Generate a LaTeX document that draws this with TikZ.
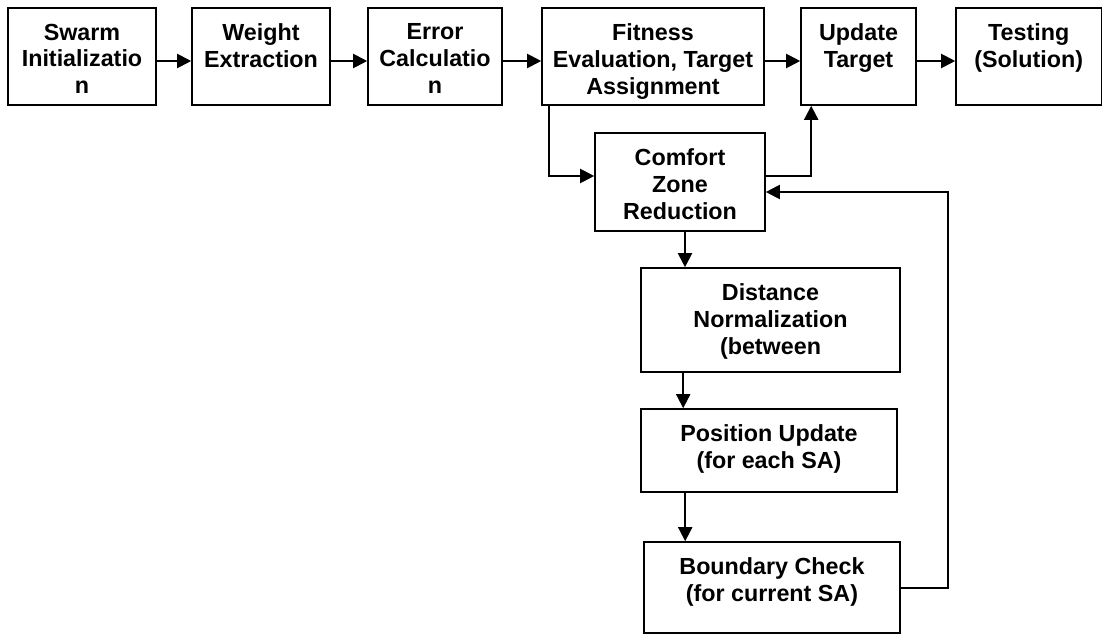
\documentclass[tikz,border=0pt]{standalone}
\usepackage{fontspec}
\setmainfont{Liberation Sans}
\usetikzlibrary{arrows.meta}

\tikzset{
	box/.style={draw, line width=1.6pt, inner sep=0pt, minimum height=97pt},
	lbl/.style={anchor=north, inner sep=0pt, yshift=-16.5pt, align=center,
		font=\bfseries\fontsize{23.3}{26.7}\selectfont},
	flow/.style={line width=2pt, -{Triangle[length=14pt,width=14pt]}},
}

\begin{document}
\begin{tikzpicture}[x=1pt,y=-1pt]
		\useasboundingbox (0,0) rectangle (1103,634);
		
		% top row
		\node[box, minimum width=148pt, label={[lbl]north:{Swarm\\Initializatio\\n}}] (swarm) at (82,56.5) {};
		\node[box, minimum width=138pt, label={[lbl]north:{Weight\\Extraction}}] (weight) at (261,56.5) {};
		\node[box, minimum width=134pt, label={[lbl]north:{Error\\Calculatio\\n}}] (error) at (435,56.5) {};
		\node[box, minimum width=222pt, label={[lbl]north:{Fitness\\Evaluation, Target\\Assignment}}] (fitness) at (653,56.5) {};
		\node[box, minimum width=115pt, label={[lbl]north:{Update\\Target}}] (update) at (858.5,56.5) {};
		\node[box, minimum width=145.5pt, label={[lbl]north:{Testing\\(Solution)}}] (testing) at (1028.75,56.5) {};
		
		% inner loop
		\node[box, minimum width=170pt, minimum height=98pt, label={[lbl]north:{Comfort\\Zone\\Reduction}}] (comfort) at (680,182) {};
		\node[box, minimum width=259pt, minimum height=104pt, label={[lbl]north:{Distance\\Normalization\\(between}}] (distance) at (770.5,320) {};
		\node[box, minimum width=256pt, minimum height=83pt, label={[lbl]north:{Position Update\\(for each SA)}}] (position) at (769,450.5) {};
		\node[box, minimum width=256pt, minimum height=91pt, label={[lbl]north:{Boundary Check\\(for current SA)}}] (boundary) at (772,587.5) {};
		\coordinate (back) at (948,192);
		
		\foreach \a/\b in {swarm/weight, weight/error, error/fitness, fitness/update, update/testing}{
			\draw[flow] ([yshift=-4.5pt]\a.east) -- ([yshift=-4.5pt]\b.west);
		}
		
		\draw[flow] ([xshift=8pt]fitness.south west) |- ([yshift=6pt]comfort.west);
		\draw[flow] ([yshift=6pt]comfort.east) -| ([xshift=11pt]update.south west);
		\draw[flow] ([xshift=5pt]comfort.south) -- ([xshift=5pt]comfort.south |- distance.north);
		\draw[flow] ([xshift=43pt]distance.south west) -- ([xshift=43pt]distance.south west |- position.north);
		\draw[flow] ([xshift=45pt]position.south west) -- ([xshift=45pt]position.south west |- boundary.north);
		\draw[flow] (boundary.east) -| (back) -- (back -| comfort.east);
\end{tikzpicture}
\end{document}
